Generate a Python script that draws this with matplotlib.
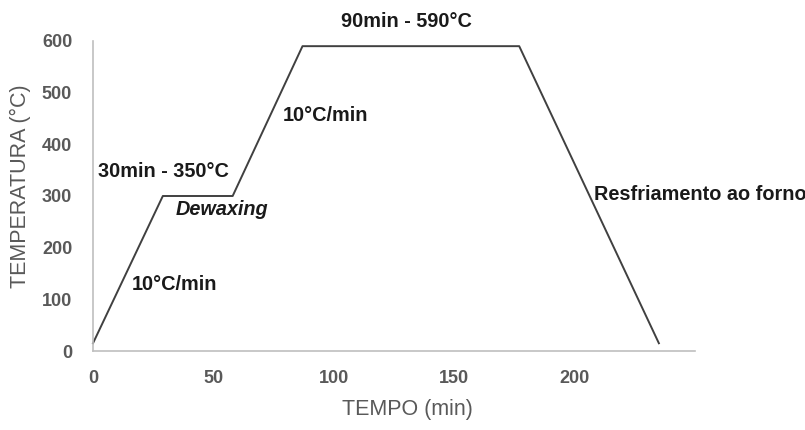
import matplotlib
matplotlib.use("Agg")
import matplotlib.pyplot as plt

plt.rcParams['font.family'] = ['Liberation Sans', 'DejaVu Sans']

# heating cycle (time in min, temperature in °C)
tempo = [0, 29, 58, 87, 177, 235]
temperatura = [15, 300, 300, 590, 590, 15]

x_ticks = [0, 50, 100, 150, 200]
y_ticks = [0, 100, 200, 300, 400, 500, 600]

# annotation texts and where they sit (data coords)
notas = [
    ("30min - 350°C", 2, 348, 'normal'),
    ("Dewaxing", 34.5, 273, 'italic'),
    ("10°C/min", 16, 128, 'normal'),
    ("10°C/min", 79, 456, 'normal'),
    ("90min - 590°C", 103, 638, 'normal'),
    ("Resfriamento ao forno", 208, 302, 'normal'),
]

fig = plt.figure(figsize=(8.05, 4.3), dpi=100)
ax = fig.add_axes([93 / 805, 79 / 430, 602 / 805, 310 / 430])

ax.plot(tempo, temperatura, color='#404040', linewidth=1.4, clip_on=False)

for texto, x, y, estilo in notas:
    ax.text(x, y, texto, fontsize=14.3, fontweight='bold', style=estilo,
            color='#1a1a1a', ha='left', va='center', clip_on=False)

ax.set_xlim(0, 250)
ax.set_ylim(0, 600)
ax.set_xticks(x_ticks)
ax.set_yticks(y_ticks)

for lado in ['top', 'right']:
    ax.spines[lado].set_visible(False)
for lado in ['left', 'bottom']:
    ax.spines[lado].set_color('#bfbfbf')
    ax.spines[lado].set_linewidth(1.2)

ax.tick_params(axis='both', length=0, labelsize=13, labelcolor='#595959')
ax.tick_params(axis='x', pad=14)
ax.tick_params(axis='y', pad=15)
for lbl in ax.get_xticklabels() + ax.get_yticklabels():
    lbl.set_fontweight('bold')

ax.set_xlabel("TEMPO (min)", fontsize=15.5, color='#595959')
ax.set_ylabel("TEMPERATURA (°C)", fontsize=15.5, color='#595959')
ax.xaxis.set_label_coords(0.523, -0.19)
ax.yaxis.set_label_coords(-0.12, 0.532)
ax.xaxis.label.set_va('center')
ax.yaxis.label.set_va('center')

fig.savefig("out.png", dpi=100)
